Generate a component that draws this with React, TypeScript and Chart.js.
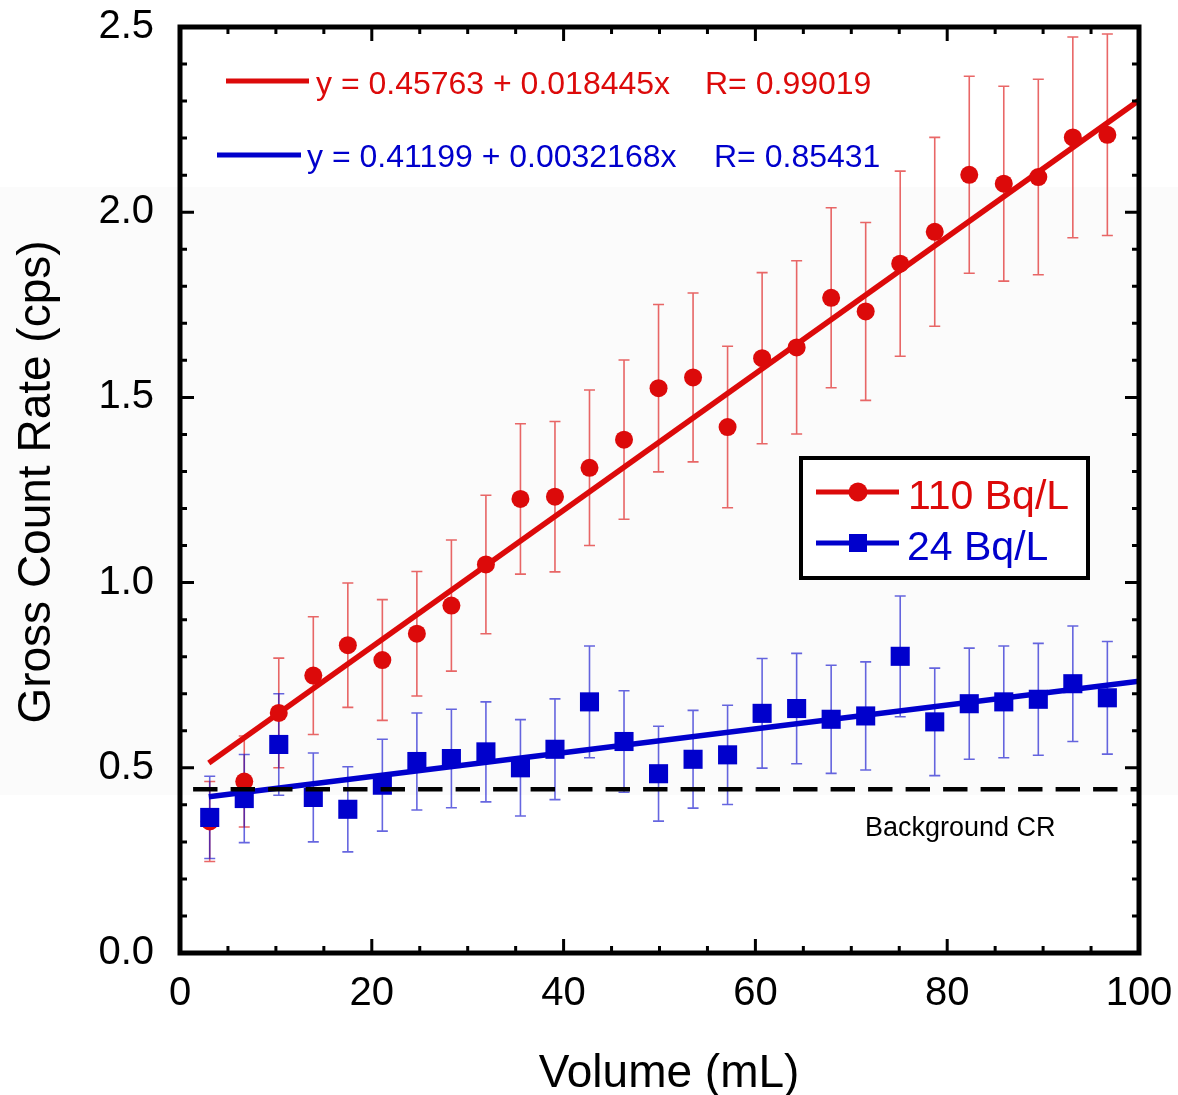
import React, { useEffect, useRef } from 'react';
import { Chart, registerables } from 'chart.js';

Chart.register(...registerables);

// ---- data ----
const volumes = [3.1, 6.7, 10.3, 13.9, 17.5, 21.1, 24.7, 28.3, 31.9, 35.5, 39.1, 42.7, 46.3, 49.9, 53.5, 57.1, 60.7, 64.3, 67.9, 71.5, 75.1, 78.7, 82.3, 85.9, 89.5, 93.1, 96.7];

const rate110 = [0.355, 0.463, 0.648, 0.749, 0.831, 0.791, 0.862, 0.938, 1.049, 1.226, 1.232, 1.31, 1.386, 1.525, 1.554, 1.42, 1.606, 1.635, 1.769, 1.732, 1.861, 1.947, 2.101, 2.077, 2.095, 2.202, 2.209];
const err110 = [0.108, 0.123, 0.148, 0.159, 0.168, 0.163, 0.168, 0.177, 0.187, 0.203, 0.203, 0.21, 0.215, 0.226, 0.228, 0.218, 0.231, 0.234, 0.243, 0.24, 0.25, 0.255, 0.266, 0.263, 0.264, 0.271, 0.272];

const rate24 = [0.366, 0.417, 0.563, 0.42, 0.388, 0.453, 0.517, 0.525, 0.543, 0.5, 0.55, 0.678, 0.571, 0.484, 0.523, 0.535, 0.647, 0.66, 0.631, 0.64, 0.801, 0.624, 0.673, 0.678, 0.685, 0.727, 0.689];
const err24 = [0.111, 0.119, 0.137, 0.12, 0.115, 0.124, 0.131, 0.133, 0.135, 0.13, 0.136, 0.151, 0.137, 0.128, 0.132, 0.134, 0.148, 0.149, 0.146, 0.146, 0.163, 0.145, 0.15, 0.151, 0.151, 0.156, 0.152];

const fit110 = { a: 0.45763, b: 0.018445, r: 0.99019 };
const fit24 = { a: 0.41199, b: 0.0032168, r: 0.85431 };
const fitRange = [3.0, 100];
const backgroundCR = 0.442;

const seriesLabels = ['110 Bq/L', '24 Bq/L'];
const xTicks = [0, 20, 40, 60, 80, 100];
const yTicks = [0, 0.5, 1.0, 1.5, 2.0, 2.5];
const xMinorStep = 5;
const yMinorStep = 0.1;

// ---- styles ----
const RED = '#dc0a0a';
const BLUE = '#0000cc';
const RED_ERR = 'rgba(220,10,10,0.62)';
const BLUE_ERR = 'rgba(0,0,204,0.6)';
const FONT = '"Liberation Sans", Arial, Helvetica, sans-serif';

const decorPlugin = {
  id: 'decor',
  beforeDraw(chart: any) {
    const ctx = chart.ctx;
    ctx.save();
    ctx.fillStyle = '#ffffff';
    ctx.fillRect(0, 0, chart.width, chart.height);
    ctx.fillStyle = '#fbfbfb';
    ctx.fillRect(0, 187, chart.width, 608);
    ctx.restore();
  },
  beforeDatasetsDraw(chart: any) {
    const ctx = chart.ctx;
    const xs = chart.scales.x;
    const ys = chart.scales.y;
    const area = chart.chartArea;
    ctx.save();
    ctx.beginPath();
    ctx.rect(area.left, area.top, area.right - area.left, area.bottom - area.top);
    ctx.clip();
    const drawBars = (vals: number[], errs: number[], color: string) => {
      ctx.strokeStyle = color;
      ctx.lineWidth = 1.6;
      vals.forEach((v, i) => {
        const px = xs.getPixelForValue(volumes[i]);
        const t = ys.getPixelForValue(v + errs[i]);
        const b = ys.getPixelForValue(v - errs[i]);
        ctx.beginPath();
        ctx.moveTo(px, t);
        ctx.lineTo(px, b);
        ctx.moveTo(px - 5.5, t);
        ctx.lineTo(px + 5.5, t);
        ctx.moveTo(px - 5.5, b);
        ctx.lineTo(px + 5.5, b);
        ctx.stroke();
      });
    };
    drawBars(rate110, err110, RED_ERR);
    drawBars(rate24, err24, BLUE_ERR);
    ctx.restore();
  },
  afterDatasetsDraw(chart: any) {
    const ctx = chart.ctx;
    const xs = chart.scales.x;
    const ys = chart.scales.y;
    const { left, right, top, bottom } = chart.chartArea;
    ctx.save();

    // ticks (inside, all four sides)
    ctx.strokeStyle = '#000';
    ctx.lineWidth = 3;
    const isMajor = (v: number, arr: number[]) => arr.some((m) => Math.abs(m - v) < 1e-6);
    for (let v = 0; v <= 100 + 1e-6; v += xMinorStep) {
      const px = xs.getPixelForValue(v);
      const len = isMajor(v, xTicks) ? 14 : 7;
      ctx.beginPath();
      ctx.moveTo(px, bottom);
      ctx.lineTo(px, bottom - len);
      ctx.moveTo(px, top);
      ctx.lineTo(px, top + len);
      ctx.stroke();
    }
    for (let k = 0; k <= 25; k++) {
      const v = k * yMinorStep;
      const py = ys.getPixelForValue(v);
      const len = isMajor(v, yTicks) ? 14 : 7;
      ctx.beginPath();
      ctx.moveTo(left, py);
      ctx.lineTo(left + len, py);
      ctx.moveTo(right, py);
      ctx.lineTo(right - len, py);
      ctx.stroke();
    }
    // frame
    ctx.lineWidth = 5;
    ctx.strokeRect(left, top, right - left, bottom - top);

    // equations
    ctx.lineCap = 'butt';
    ctx.lineWidth = 5;
    ctx.strokeStyle = RED;
    ctx.beginPath();
    ctx.moveTo(226, 81);
    ctx.lineTo(309, 81);
    ctx.stroke();
    ctx.strokeStyle = BLUE;
    ctx.beginPath();
    ctx.moveTo(217, 155);
    ctx.lineTo(301, 155);
    ctx.stroke();
    ctx.font = `32px ${FONT}`;
    ctx.textAlign = 'left';
    ctx.textBaseline = 'alphabetic';
    ctx.fillStyle = RED;
    ctx.fillText(`y = ${fit110.a} + ${fit110.b}x`, 316, 94);
    ctx.fillText(`R= ${fit110.r}`, 705, 94);
    ctx.fillStyle = BLUE;
    ctx.fillText(`y = ${fit24.a} + ${fit24.b}x`, 307, 167);
    ctx.fillText(`R= ${fit24.r}`, 714, 167);

    // background label
    ctx.fillStyle = '#000';
    ctx.font = `27px ${FONT}`;
    ctx.fillText('Background CR', 865, 836);

    // legend box
    ctx.fillStyle = '#fff';
    ctx.fillRect(801, 458, 287, 120);
    ctx.strokeStyle = '#000';
    ctx.lineWidth = 4;
    ctx.strokeRect(801, 458, 287, 120);
    // red entry
    ctx.strokeStyle = RED;
    ctx.lineWidth = 5;
    ctx.beginPath();
    ctx.moveTo(816, 492);
    ctx.lineTo(899, 492);
    ctx.stroke();
    ctx.fillStyle = RED;
    ctx.beginPath();
    ctx.arc(858, 492, 9.5, 0, Math.PI * 2);
    ctx.fill();
    ctx.font = `41px ${FONT}`;
    ctx.fillText(seriesLabels[0], 908, 509);
    // blue entry
    ctx.strokeStyle = BLUE;
    ctx.beginPath();
    ctx.moveTo(816, 543);
    ctx.lineTo(899, 543);
    ctx.stroke();
    ctx.fillStyle = BLUE;
    ctx.fillRect(849, 534, 18, 18);
    ctx.fillText(seriesLabels[1], 907, 560);

    ctx.restore();
  },
  afterDraw(chart: any) {
    const ctx = chart.ctx;
    ctx.save();
    ctx.fillStyle = '#000';
    ctx.font = `46px ${FONT}`;
    ctx.textAlign = 'center';
    ctx.textBaseline = 'alphabetic';
    ctx.fillText('Volume (mL)', 669, 1087);
    ctx.translate(50, 482);
    ctx.rotate(-Math.PI / 2);
    ctx.fillText('Gross Count Rate (cps)', 0, 0);
    ctx.restore();
  },
};

export default function App() {
  const canvasRef = useRef<HTMLCanvasElement | null>(null);

  useEffect(() => {
    if (!canvasRef.current) return;
    const line = (f: { a: number; b: number }) => fitRange.map((x) => ({ x, y: f.a + f.b * x }));
    const chart = new Chart(canvasRef.current, {
      type: 'line',
      data: {
        datasets: [
          {
            label: 'Background CR',
            data: [{ x: 0, y: backgroundCR }, { x: 100, y: backgroundCR }],
            borderColor: '#000',
            borderWidth: 4.5,
            borderDash: [24.4, 13.1],
            borderDashOffset: 24.4,
            pointRadius: 0,
            order: 0,
          },
          {
            label: seriesLabels[1],
            data: volumes.map((x, i) => ({ x, y: rate24[i] })),
            showLine: false,
            pointStyle: 'rect',
            pointRadius: 13.5,
            pointBorderWidth: 0,
            pointBackgroundColor: BLUE,
            pointBorderColor: BLUE,
            order: 1,
          },
          {
            label: 'fit 24',
            data: line(fit24),
            borderColor: BLUE,
            borderWidth: 5.5,
            pointRadius: 0,
            order: 2,
          },
          {
            label: seriesLabels[0],
            data: volumes.map((x, i) => ({ x, y: rate110[i] })),
            showLine: false,
            pointStyle: 'circle',
            pointRadius: 9,
            pointBorderWidth: 0,
            pointBackgroundColor: RED,
            pointBorderColor: RED,
            order: 3,
          },
          {
            label: 'fit 110',
            data: line(fit110),
            borderColor: RED,
            borderWidth: 5.5,
            pointRadius: 0,
            order: 4,
          },
        ],
      },
      options: {
        animation: false,
        responsive: false,
        maintainAspectRatio: false,
        devicePixelRatio: 1,
        layout: { padding: { top: 27, right: 39, left: 0, bottom: 0 } },
        plugins: { legend: { display: false }, tooltip: { enabled: false }, title: { display: false } },
        scales: {
          x: {
            type: 'linear',
            min: 0,
            max: 100,
            grid: { display: false, drawTicks: false },
            border: { display: false },
            afterBuildTicks: (s: any) => {
              s.ticks = xTicks.map((v) => ({ value: v }));
            },
            afterFit: (s: any) => {
              s.height = 142;
              s.paddingLeft = 0;
              s.paddingRight = 0;
              s.paddingTop = 0;
              s.paddingBottom = 0;
            },
            ticks: {
              autoSkip: false,
              maxRotation: 0,
              padding: 21,
              color: '#000',
              font: { family: FONT, size: 40, lineHeight: 1 },
              callback: (v: any) => String(v),
            },
          },
          y: {
            type: 'linear',
            min: 0,
            max: 2.5,
            grid: { display: false, drawTicks: false },
            border: { display: false },
            afterBuildTicks: (s: any) => {
              s.ticks = yTicks.map((v) => ({ value: v }));
            },
            afterFit: (s: any) => {
              s.width = 180;
              s.paddingLeft = 0;
              s.paddingRight = 0;
              s.paddingTop = 0;
              s.paddingBottom = 0;
            },
            ticks: {
              autoSkip: false,
              padding: 26,
              color: '#000',
              font: { family: FONT, size: 40, lineHeight: 1 },
              callback: (v: any) => Number(v).toFixed(1),
            },
          },
        },
      },
      plugins: [decorPlugin],
    } as any);
    return () => chart.destroy();
  }, []);

  return (
    <div style={{ position: 'absolute', left: 0, top: 0, width: 1178, height: 1095 }}>
      <canvas ref={canvasRef} width={1178} height={1095} style={{ width: 1178, height: 1095, display: 'block' }} />
    </div>
  );
}
